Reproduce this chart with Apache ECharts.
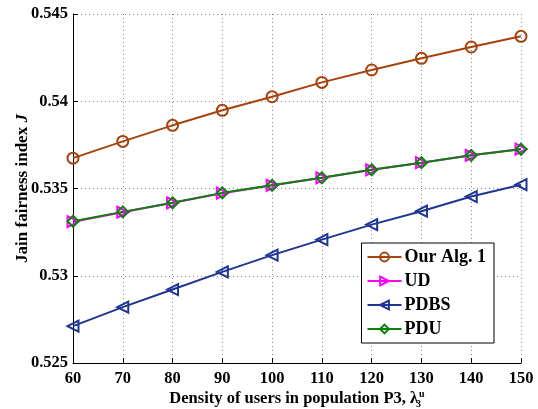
<!DOCTYPE html>
<html>
<head>
<meta charset="utf-8">
<script src="https://cdn.jsdelivr.net/npm/echarts@6/dist/echarts.min.js"></script>
<style>
  html, body { margin: 0; padding: 0; background: #fff; }
  #box1 { width: 538px; height: 409px; }
</style>
</head>
<body>
<div id="box1"></div>
<script>
// x values: density of users in population P3
let density = [60, 70, 80, 90, 100, 110, 120, 130, 140, 150];

// Jain fairness index for each scheme
let ourAlg = [0.53674, 0.53770, 0.53862, 0.53948, 0.54026, 0.54108, 0.54179, 0.54246, 0.54311, 0.54372];
let ud     = [0.53310, 0.53364, 0.53418, 0.53473, 0.53518, 0.53561, 0.53607, 0.53648, 0.53690, 0.53726];
let pdbs   = [0.52711, 0.52820, 0.52921, 0.53022, 0.53118, 0.53207, 0.53293, 0.53370, 0.53454, 0.53522];
let pdu    = [0.53312, 0.53366, 0.53418, 0.53475, 0.53518, 0.53561, 0.53607, 0.53648, 0.53690, 0.53725];

let yTicks = ['0.525', '0.53', '0.535', '0.54', '0.545'];

const font = 'Liberation Serif';

function pairs(ys) {
    return density.map((x, i) => [x, ys[i]]);
}

function mkSeries(name, ys, color, symbol, rotate) {
    return {
        name: name,
        type: 'line',
        data: pairs(ys),
        symbol: symbol,
        symbolSize: 11,
        symbolRotate: rotate,
        showAllSymbol: true,
        lineStyle: { color: color, width: 2 },
        // hollow markers, the line shows through like in matlab
        itemStyle: { color: 'rgba(0,0,0,0)', borderColor: color, borderWidth: 2 },
        emphasis: { disabled: true },
        animation: false
    };
}

let myChart1 = echarts.init(document.querySelector('#box1'));
let option1 = {
    backgroundColor: '#fff',
    grid: { left: 73, right: 17, top: 14, bottom: 46, containLabel: false, outerBoundsMode: 'none' },
    legend: {
        right: 44,
        top: 243,
        orient: 'vertical',
        backgroundColor: '#fff',
        borderColor: '#000',
        borderWidth: 1,
        borderRadius: 0,
        padding: [5, 8, 5, 5],
        itemGap: 6,
        itemWidth: 34,
        itemHeight: 11,
        textStyle: { fontFamily: font, fontWeight: 'bold', fontSize: 18, color: '#000', padding: [0, 0, 0, -2] },
        data: ['Our Alg. 1', 'UD', 'PDBS', 'PDU']
    },
    xAxis: {
        type: 'value',
        min: 60,
        max: 150,
        interval: 10,
        name: '{t|Density of users in population P3, λ}{b|3}{u|u}',
        nameLocation: 'middle',
        nameGap: 26,
        nameMoveOverlap: false,
        nameTextStyle: {
            rich: {
                t: { fontFamily: font, fontWeight: 'bold', fontSize: 16.5, color: '#000' },
                b: { fontFamily: font, fontWeight: 'bold', fontSize: 10, color: '#000', verticalAlign: 'bottom', padding: [8, 0, 0, 0], width: 1 },
                u: { fontFamily: font, fontWeight: 'bold', fontSize: 10, color: '#000', verticalAlign: 'top', padding: [0, 0, 10, 0] }
            }
        },
        axisLine: { show: true, lineStyle: { color: '#000', width: 1 } },
        axisTick: { show: true, inside: true, length: 5, lineStyle: { color: '#000' } },
        axisLabel: { fontFamily: font, fontWeight: 'bold', fontSize: 16.5, color: '#000', margin: 7 },
        splitLine: { show: true, lineStyle: { type: [1, 3], color: '#888', width: 1 } }
    },
    yAxis: {
        type: 'value',
        min: 0.525,
        max: 0.545,
        interval: 0.005,
        name: '{t|Jain fairness index }{i|J}',
        nameLocation: 'middle',
        nameGap: 42,
        nameMoveOverlap: false,
        nameTextStyle: {
            rich: {
                t: { fontFamily: font, fontWeight: 'bold', fontSize: 17, color: '#000' },
                i: { fontFamily: font, fontWeight: 'bold', fontStyle: 'italic', fontSize: 17, color: '#000' }
            }
        },
        axisLine: { show: true, lineStyle: { color: '#000', width: 1 } },
        axisTick: { show: true, inside: true, length: 5, lineStyle: { color: '#000' } },
        axisLabel: {
            fontFamily: font, fontWeight: 'bold', fontSize: 16.5, color: '#000', margin: 5,
            formatter: v => yTicks[Math.round((v - 0.525) / 0.005)]
        },
        splitLine: { show: true, lineStyle: { type: [1, 3], color: '#888', width: 1 } }
    },
    series: [
        mkSeries('Our Alg. 1', ourAlg, '#a8420c', 'circle', 0),
        mkSeries('UD', ud, '#ff00ff', 'triangle', -90),
        mkSeries('PDBS', pdbs, '#1f3594', 'triangle', 90),
        mkSeries('PDU', pdu, '#0a820a', 'diamond', 0)
    ]
};
myChart1.setOption(option1);
</script>
</body>
</html>
